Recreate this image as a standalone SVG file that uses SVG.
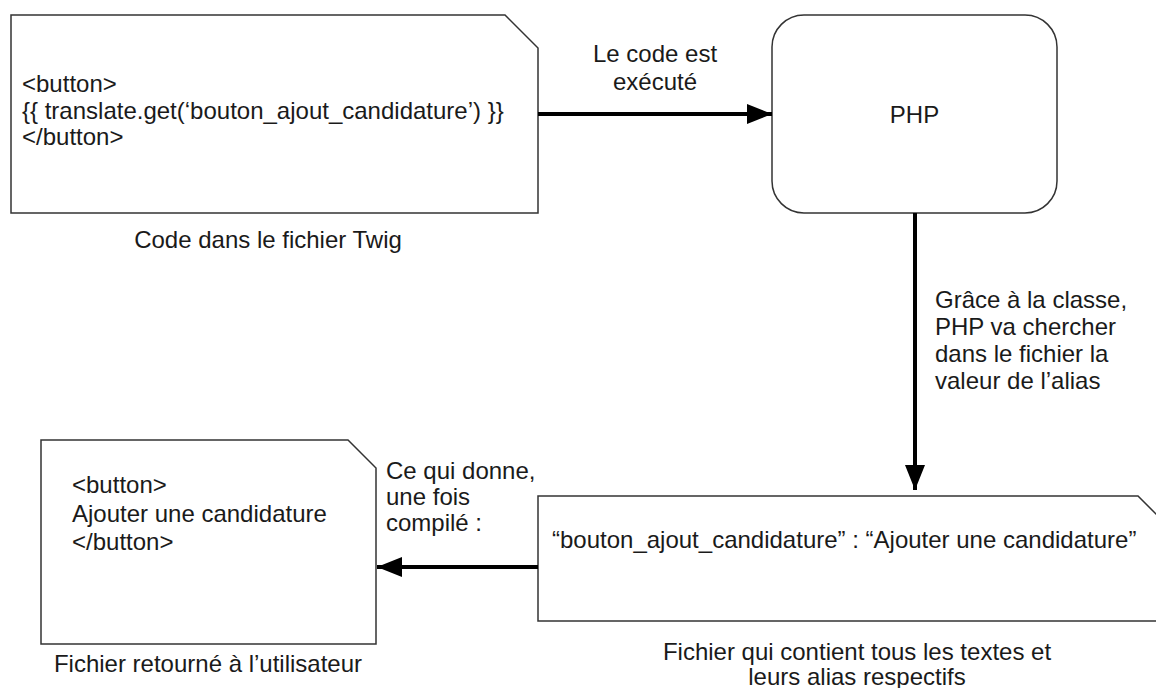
<svg xmlns="http://www.w3.org/2000/svg" width="1156" height="688" viewBox="0 0 1156 688">
  <style>
    .box { fill: #ffffff; stroke: #333333; stroke-width: 1.5; }
    .t { font-family: "Liberation Sans", Arial, sans-serif; font-size: 24px; fill: #1a1a1a; }
    .mid { text-anchor: middle; }
    .edge { fill: none; stroke: #000000; stroke-width: 4; }
  </style>
  <defs>
    <marker id="head" markerUnits="userSpaceOnUse" markerWidth="26" markerHeight="20" refX="25" refY="10" orient="auto">
      <path d="M0,0 L25,10 L0,20 Z" fill="#000000"/>
    </marker>
  </defs>
  <rect width="1156" height="688" fill="#ffffff"/>

  <!-- Twig source file -->
  <g id="twig-file">
    <path class="box" d="M11,15 H505 L538,48 V213 H11 Z"/>
    <text class="t" x="22" y="92">&lt;button&gt;</text>
    <text class="t" x="22" y="119">{{ translate.get(‘bouton_ajout_candidature’) }}</text>
    <text class="t" x="22" y="145">&lt;/button&gt;</text>
    <text class="t mid" x="268" y="248">Code dans le fichier Twig</text>
  </g>

  <!-- PHP runtime -->
  <g id="php">
    <rect class="box" x="772" y="15" width="285" height="198" rx="32" ry="32"/>
    <text class="t mid" x="914.5" y="123">PHP</text>
  </g>

  <!-- Translation file -->
  <g id="translation-file">
    <path class="box" d="M538,496 H1138 L1172,530 V621 H538 Z"/>
    <text class="t" x="552" y="548">“bouton_ajout_candidature” : “Ajouter une candidature”</text>
    <text class="t mid" x="857" y="660">Fichier qui contient tous les textes et</text>
    <text class="t mid" x="857" y="685">leurs alias respectifs</text>
  </g>

  <!-- Compiled output -->
  <g id="output-file">
    <path class="box" d="M41,440 H348 L376,468 V644 H41 Z"/>
    <text class="t" x="72" y="493">&lt;button&gt;</text>
    <text class="t" x="72" y="522">Ajouter une candidature</text>
    <text class="t" x="72" y="550">&lt;/button&gt;</text>
    <text class="t mid" x="208" y="672">Fichier retourné à l’utilisateur</text>
  </g>

  <!-- Connectors -->
  <g id="connectors">
    <path class="edge" d="M538,114 H772" marker-end="url(#head)"/>
    <path class="edge" d="M915,213 V490" marker-end="url(#head)"/>
    <path class="edge" d="M538,567 H377" marker-end="url(#head)"/>
    <text class="t mid" x="655" y="62">Le code est</text>
    <text class="t mid" x="655" y="90">exécuté</text>
    <text class="t" x="935" y="308">Grâce à la classe,</text>
    <text class="t" x="935" y="335">PHP va chercher</text>
    <text class="t" x="935" y="362">dans le fichier la</text>
    <text class="t" x="935" y="389">valeur de l’alias</text>
    <text class="t" x="386" y="479">Ce qui donne,</text>
    <text class="t" x="386" y="505">une fois</text>
    <text class="t" x="386" y="531">compilé :</text>
  </g>
</svg>
